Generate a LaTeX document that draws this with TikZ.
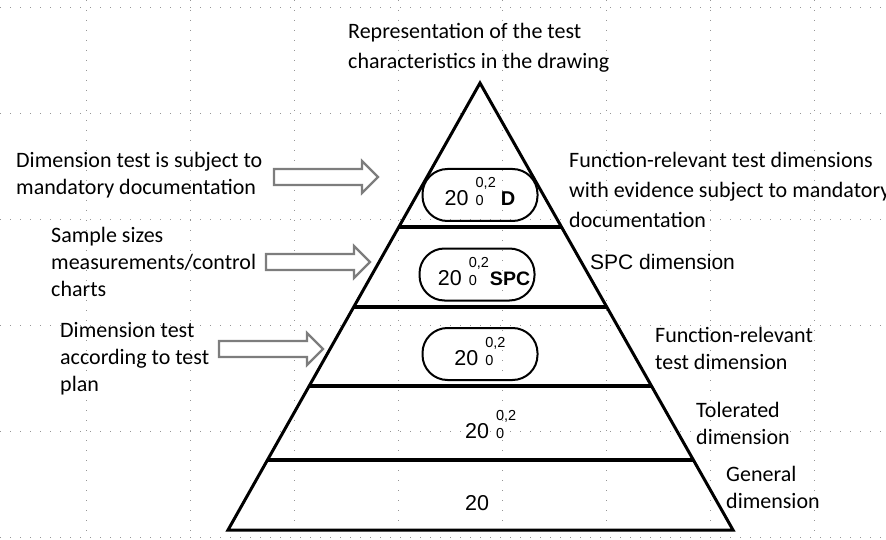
\documentclass[tikz,border=0pt]{standalone}
\usepackage{fontspec}
\setmainfont{Carlito}
\newfontfamily\arialfont{Liberation Sans}
\usepackage{tikz}
\usetikzlibrary{calc}
\definecolor{gridgray}{RGB}{150,150,150}
\definecolor{arrowgray}{RGB}{125,125,125}
\newcommand{\tolval}{20\hspace{7pt}\rlap{\fontsize{14.5}{14.5}\selectfont 0}\smash{\raisebox{18pt}{\fontsize{14.5}{14.5}\selectfont 0,2}}}

\begin{document}
\begin{tikzpicture}[x=1pt,y=-1pt,
  lbl/.style={align=left,anchor=west,inner sep=0pt,font=\fontsize{22}{27}\selectfont},
  tolbox/.style={draw,line width=2pt,rounded corners=25pt,minimum width=115pt,minimum height=52pt,
    text height=22pt,text depth=0pt,inner sep=0pt,font=\arialfont\fontsize{21.5}{21.5}\selectfont},
  numtxt/.style={inner sep=0pt,anchor=base west,font=\arialfont\fontsize{21.5}{21.5}\selectfont},
  hollowarrow/.pic={
    \draw[arrowgray,line width=2.2pt,line join=miter,fill=white]
      (-104,-8) -- (-16,-8) -- (-16,-16) -- (0,0) -- (-16,16) -- (-16,8) -- (-104,8) -- cycle;},
  layer/.style={line width=3.4pt},
  dotgrid/.style={gridgray,line width=1pt,dash pattern=on 1pt off 9pt}]
  \useasboundingbox (0,0) rectangle (886,540);

  % background grid of the slide
  \foreach \k in {0,...,5}
    \draw[dotgrid] (0,8+105.8*\k) -- (886,8+105.8*\k);
  \foreach \k in {0,...,7}
    \draw[dotgrid] (86+104.1*\k,0) -- (86+104.1*\k,540);

  % pyramid
  \coordinate (apex) at (480,83);
  \coordinate (bl) at (228,530);
  \coordinate (br) at (733,530);
  \draw[line width=3pt,line join=miter] (bl) -- (apex) -- (br) -- cycle;
  \foreach \t in {0.322,0.501,0.678,0.843}
    \draw[layer] ($(apex)!\t!(bl)$) -- ($(apex)!\t!(br)$);

  % values in the layers
  \node[tolbox] (boxD) at (480,195) {\tolval\hspace{5pt}{\bfseries\fontsize{20}{20}\selectfont D}};
  \node[tolbox] (boxSPC) at (477,274.5) {\hspace{14pt}\tolval\hspace{1pt}{\bfseries\fontsize{19.5}{19.5}\selectfont SPC}};
  \node[tolbox] (boxFunc) at (480,354) {\tolval};
  \node[numtxt] (tolLayer) at (465,438) {\tolval};
  \node[numtxt] (genLayer) at (465,510) {20};

  % labels
  \node[lbl,font=\fontsize{22}{30}\selectfont] (title) at (348,48) {Representation of the test\\characteristics in the drawing};
  \node[lbl] (docLeft) at (16,175.5) {Dimension test is subject to\\mandatory documentation};
  \node[lbl] (spcLeft) at (51,262) {Sample sizes\\measurements/control\\charts};
  \node[lbl] (planLeft) at (60,358.5) {Dimension test\\according to test\\plan};
  \node[lbl,font=\fontsize{22}{30}\selectfont] (docRight) at (569,190) {Function-relevant test dimensions\\with evidence subject to mandatory\\documentation};
  \node[lbl,font=\arialfont\fontsize{21}{27}\selectfont] (spcRight) at (590,262) {SPC dimension};
  \node[lbl] (funcRight) at (655,348.5) {Function-relevant\\test dimension};
  \node[lbl] (tolRight) at (696,423.5) {Tolerated\\dimension};
  \node[lbl] (genRight) at (726,487.5) {General\\dimension};

  % hollow arrows
  \pic (arrDoc) at (378,177) {hollowarrow};
  \pic (arrSpc) at (370,262) {hollowarrow};
  \pic (arrPlan) at (323,349) {hollowarrow};
\end{tikzpicture}
\end{document}
